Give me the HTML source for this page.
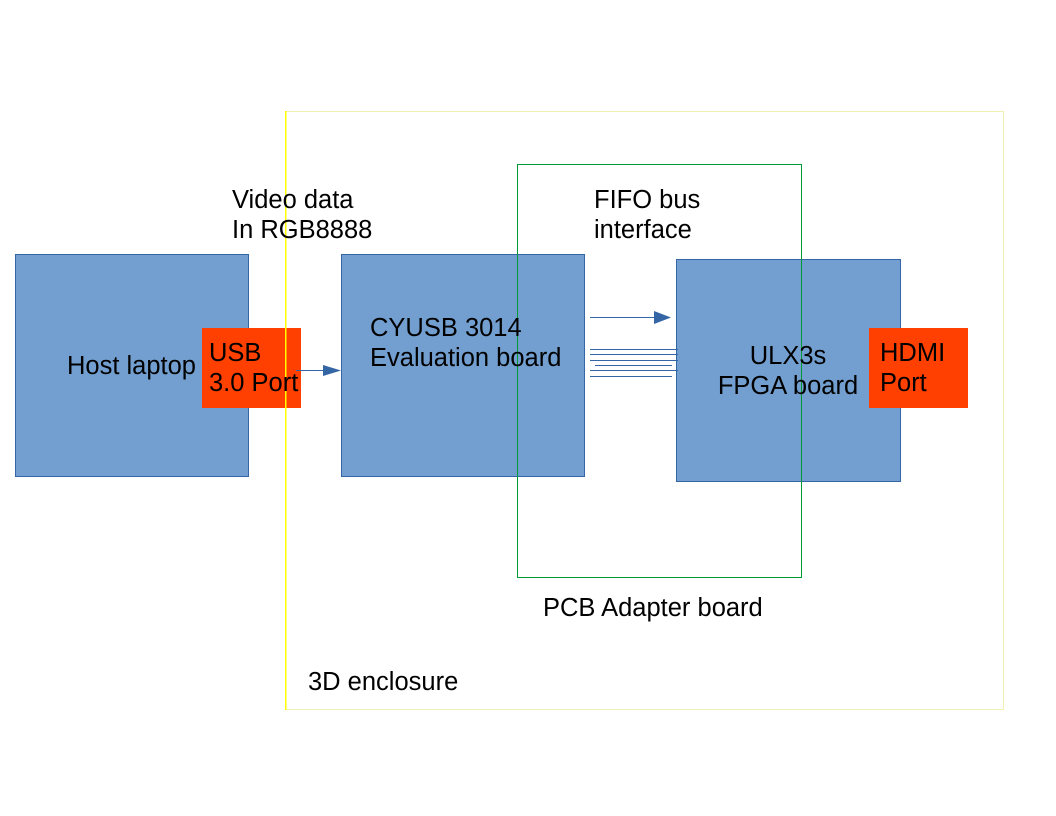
<!DOCTYPE html>
<html><head><meta charset="utf-8"><style>html,body{margin:0;padding:0;background:#fff;}svg{display:block}</style></head>
<body>
<svg width="1056" height="816" xmlns="http://www.w3.org/2000/svg" font-family="Liberation Sans, sans-serif" font-size="25.5">
<rect x="0" y="0" width="1056" height="816" fill="#fff"/>
<rect x="15.5" y="254.5" width="233" height="222" fill="#729fcf" stroke="#3465a4" stroke-width="1"/>
<rect x="341.5" y="254.5" width="243" height="222" fill="#729fcf" stroke="#3465a4" stroke-width="1"/>
<rect x="676.5" y="259.5" width="224" height="222" fill="#729fcf" stroke="#3465a4" stroke-width="1"/>
<rect x="202" y="328" width="99" height="80" fill="#ff4000"/>
<rect x="869" y="328" width="99" height="80" fill="#ff4000"/>
<rect x="285.5" y="111.5" width="718" height="598" fill="none" stroke="#f0f0b0" stroke-width="1"/>
<rect x="285" y="111" width="1.5" height="599" fill="#ffff00"/>
<rect x="517.5" y="164.5" width="284" height="413" fill="none" stroke="#009933" stroke-width="1"/>
<line x1="296" y1="370.5" x2="328" y2="370.5" stroke="#3465a4" stroke-width="1"/>
<polygon points="323,365 341,370.5 323,376" fill="#3465a4"/>
<line x1="590" y1="317.5" x2="656" y2="317.5" stroke="#3465a4" stroke-width="1"/>
<polygon points="654,311 671,317.5 654,324" fill="#3465a4"/>
<g stroke="#3465a4" stroke-width="1">
<line x1="590" y1="349.5" x2="678" y2="349.5"/>
<line x1="590" y1="354.5" x2="678" y2="354.5"/>
<line x1="590" y1="360.5" x2="678" y2="360.5"/>
<line x1="595" y1="365.5" x2="672" y2="365.5"/>
<line x1="590" y1="370.5" x2="678" y2="370.5"/>
<line x1="590" y1="376.5" x2="672" y2="376.5"/>
</g>
<g fill="#000">
<text x="67" y="374">Host laptop</text>
<text x="209" y="361">USB</text>
<text x="209" y="391">3.0 Port</text>
<text x="370" y="336">CYUSB 3014</text>
<text x="370" y="366">Evaluation board</text>
<text x="788" y="364" text-anchor="middle">ULX3s</text>
<text x="788" y="394" text-anchor="middle">FPGA board</text>
<text x="880" y="361">HDMI</text>
<text x="880" y="391">Port</text>
<text x="232" y="208">Video data</text>
<text x="232" y="238">In RGB8888</text>
<text x="594" y="208">FIFO bus</text>
<text x="594" y="238">interface</text>
<text x="543" y="616">PCB Adapter board</text>
<text x="308" y="690">3D enclosure</text>
</g>
</svg>
</body></html>
